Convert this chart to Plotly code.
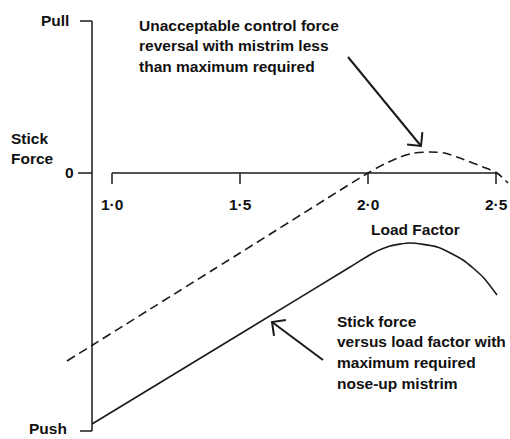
import math
import plotly.graph_objects as go

# ---- data (load factor vs stick force, arbitrary force units; 0 = neutral) ----
tick_values = [1.0, 1.5, 2.0, 2.5]
tick_labels = ["1·0", "1·5", "2·0", "2·5"]

dashed_load = [0.824, 1.5, 2.0, 2.06, 2.125, 2.18, 2.242, 2.30, 2.348, 2.449, 2.504, 2.547]
dashed_force = [-1.88, -0.80, 0.0, 0.085, 0.16, 0.20, 0.21, 0.20, 0.16, 0.06, 0.0, -0.10]

solid_load = [0.922, 1.539, 1.930, 2.020, 2.086, 2.164, 2.270, 2.371, 2.449, 2.504]
solid_force = [-2.51, -1.55, -0.94, -0.80, -0.73, -0.70, -0.74, -0.87, -1.04, -1.22]

axis_load = 0.922      # position of the force axis
pull_force = 1.52
push_force = -2.58
axis_end_load = 2.504

upper_note = ["Unacceptable control force", "reversal with mistrim less", "than maximum required"]
lower_note = ["Stick force", "versus load factor with", "maximum required", "nose-up mistrim"]

W, H = 510, 439
FONT = dict(family="Liberation Sans, Arial, Helvetica, sans-serif", size=15.5, color="#111111")
INK = "#1a1a1a"


def dx(px):
    return 1.0 + (px - 112) / 256.0


def dy(py):
    return (173 - py) / 100.0


fig = go.Figure()
fig.add_trace(go.Scatter(x=dashed_load, y=dashed_force, mode="lines",
                         line=dict(color=INK, width=1.6, dash="9px,5px", shape="spline", smoothing=0.6),
                         hoverinfo="skip"))
fig.add_trace(go.Scatter(x=solid_load, y=solid_force, mode="lines",
                         line=dict(color=INK, width=1.6, shape="spline", smoothing=0.6),
                         hoverinfo="skip"))

shapes = []
lw = 1.5
# force axis
shapes.append(dict(type="line", x0=axis_load, x1=axis_load, y0=push_force, y1=pull_force,
                   line=dict(color=INK, width=lw)))
# pull / push / zero ticks
shapes.append(dict(type="line", x0=dx(80), x1=axis_load, y0=pull_force, y1=pull_force,
                   line=dict(color=INK, width=lw)))
shapes.append(dict(type="line", x0=dx(80), x1=axis_load, y0=push_force, y1=push_force,
                   line=dict(color=INK, width=lw)))
shapes.append(dict(type="line", x0=dx(78), x1=axis_load, y0=0, y1=0,
                   line=dict(color=INK, width=lw)))
# load factor axis
shapes.append(dict(type="line", x0=tick_values[0], x1=axis_end_load, y0=0, y1=0,
                   line=dict(color=INK, width=lw)))
for v in tick_values:
    shapes.append(dict(type="line", x0=v, x1=v, y0=0, y1=dy(184),
                       line=dict(color=INK, width=lw)))


def arrow(tail, tip, arm=14, ang=45):
    (tx, ty), (hx, hy) = tail, tip
    base = math.atan2(ty - hy, tx - hx)
    pts = []
    for s in (-1, 1):
        a = base + s * math.radians(ang)
        pts.append((hx + arm * math.cos(a), hy + arm * math.sin(a)))
    out = [dict(type="line", x0=dx(tx), y0=dy(ty), x1=dx(hx), y1=dy(hy),
                line=dict(color=INK, width=2))]
    path = "M {} {} L {} {} L {} {}".format(dx(pts[0][0]), dy(pts[0][1]), dx(hx), dy(hy),
                                            dx(pts[1][0]), dy(pts[1][1]))
    out.append(dict(type="path", path=path, line=dict(color=INK, width=2)))
    return out


shapes += arrow((348, 57), (421, 146))
shapes += arrow((323, 360), (272, 322))

ann = []


def text(t, px, py, xanchor="left"):
    ann.append(dict(text=t, x=dx(px), y=dy(py), xref="x", yref="y", showarrow=False,
                    xanchor=xanchor, yanchor="middle", font=FONT))


text("<b>Pull</b>", 71, 20, "right")
text("<b>Push</b>", 69, 428, "right")
text("<b>0</b>", 76, 172, "right")
text("<b>Stick</b>", 9, 138)
text("<b>Force</b>", 9, 158)
text("<b>Load Factor</b>", 415, 229, "center")
for v, lab in zip(tick_values, tick_labels):
    ann.append(dict(text="<b>" + lab + "</b>", x=v, y=dy(204), xref="x", yref="y", showarrow=False,
                    xanchor="center", yanchor="middle", font=FONT))
for i, line in enumerate(upper_note):
    text("<b>" + line + "</b>", 137, 25 + i * 20.5)
for i, line in enumerate(lower_note):
    text("<b>" + line + "</b>", 335, 321 + i * 20.7)

fig.update_layout(
    width=W, height=H, margin=dict(l=0, r=0, t=0, b=0),
    paper_bgcolor="white", plot_bgcolor="white", showlegend=False,
    xaxis=dict(range=[dx(0), dx(W)], visible=False, fixedrange=True),
    yaxis=dict(range=[dy(H), dy(0)], visible=False, fixedrange=True),
    shapes=shapes, annotations=ann,
)
fig.write_html("out.html", config=dict(displayModeBar=False),
               post_script="document.body.style.margin='0px';document.body.style.overflow='hidden';")
